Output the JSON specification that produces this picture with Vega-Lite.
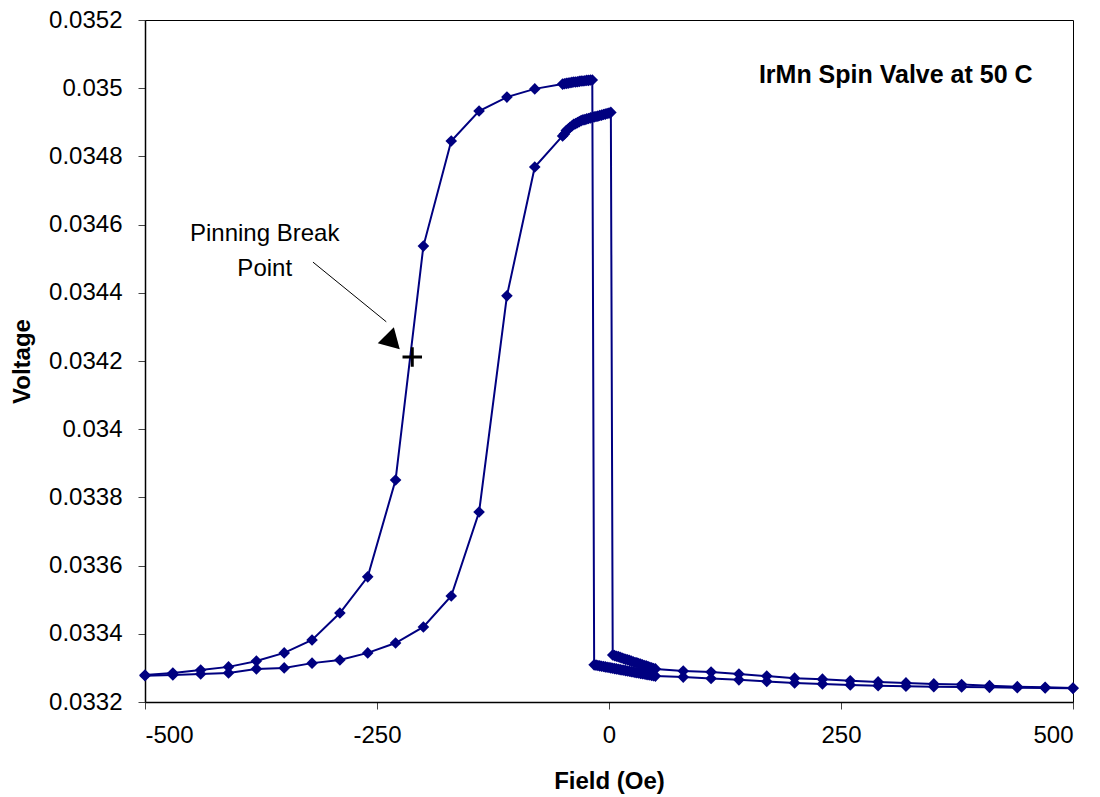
{
  "$schema": "https://vega.github.io/schema/vega-lite/v6.json",
  "width": 928,
  "height": 682,
  "autosize": {"type": "none"},
  "padding": {"left": 145, "top": 20, "right": 27, "bottom": 95},
  "background": "white",
  "config": {
    "font": "Liberation Sans",
    "view": {"stroke": "black", "strokeWidth": 1},
    "axis": {
      "domainColor": "black",
      "domainWidth": 1.5,
      "tickColor": "#444444",
      "tickSize": 7,
      "labelColor": "black",
      "titleColor": "black",
      "grid": false,
      "labelFont": "Liberation Sans",
      "titleFont": "Liberation Sans",
      "labelFontSize": 24,
      "titleFontSize": 24,
      "titleFontWeight": "bold"
    }
  },
  "datasets": {
    "loop": [
      {"f": 500, "v": 0.033240, "s": "down"},
      {"f": 470, "v": 0.033241, "s": "down"},
      {"f": 440, "v": 0.033242, "s": "down"},
      {"f": 410, "v": 0.033243, "s": "down"},
      {"f": 380, "v": 0.033244, "s": "down"},
      {"f": 350, "v": 0.033245, "s": "down"},
      {"f": 320, "v": 0.033246, "s": "down"},
      {"f": 290, "v": 0.033248, "s": "down"},
      {"f": 260, "v": 0.033250, "s": "down"},
      {"f": 230, "v": 0.033253, "s": "down"},
      {"f": 200, "v": 0.033256, "s": "down"},
      {"f": 170, "v": 0.033260, "s": "down"},
      {"f": 140, "v": 0.033265, "s": "down"},
      {"f": 110, "v": 0.033269, "s": "down"},
      {"f": 80, "v": 0.033273, "s": "down"},
      {"f": 50, "v": 0.033276, "s": "down"},
      {"f": 48, "v": 0.033277, "s": "down"},
      {"f": 46, "v": 0.033278, "s": "down"},
      {"f": 44, "v": 0.033279, "s": "down"},
      {"f": 42, "v": 0.033280, "s": "down"},
      {"f": 40, "v": 0.033281, "s": "down"},
      {"f": 38, "v": 0.033282, "s": "down"},
      {"f": 36, "v": 0.033283, "s": "down"},
      {"f": 34, "v": 0.033284, "s": "down"},
      {"f": 32, "v": 0.033285, "s": "down"},
      {"f": 30, "v": 0.033286, "s": "down"},
      {"f": 28, "v": 0.033287, "s": "down"},
      {"f": 26, "v": 0.033288, "s": "down"},
      {"f": 24, "v": 0.033289, "s": "down"},
      {"f": 22, "v": 0.033290, "s": "down"},
      {"f": 20, "v": 0.033291, "s": "down"},
      {"f": 18, "v": 0.033292, "s": "down"},
      {"f": 16, "v": 0.033293, "s": "down"},
      {"f": 14, "v": 0.033294, "s": "down"},
      {"f": 12, "v": 0.033295, "s": "down"},
      {"f": 10, "v": 0.033296, "s": "down"},
      {"f": 8, "v": 0.033297, "s": "down"},
      {"f": 6, "v": 0.033298, "s": "down"},
      {"f": 4, "v": 0.033299, "s": "down"},
      {"f": 2, "v": 0.033300, "s": "down"},
      {"f": 0, "v": 0.033301, "s": "down"},
      {"f": -2, "v": 0.033302, "s": "down"},
      {"f": -4, "v": 0.033303, "s": "down"},
      {"f": -6, "v": 0.033304, "s": "down"},
      {"f": -8, "v": 0.033305, "s": "down"},
      {"f": -10, "v": 0.033306, "s": "down"},
      {"f": -12, "v": 0.033307, "s": "down"},
      {"f": -14, "v": 0.033308, "s": "down"},
      {"f": -16, "v": 0.033309, "s": "down"},
      {"f": -18, "v": 0.035024, "s": "down"},
      {"f": -20, "v": 0.035024, "s": "down"},
      {"f": -22, "v": 0.035023, "s": "down"},
      {"f": -24, "v": 0.035023, "s": "down"},
      {"f": -26, "v": 0.035022, "s": "down"},
      {"f": -28, "v": 0.035021, "s": "down"},
      {"f": -30, "v": 0.035021, "s": "down"},
      {"f": -32, "v": 0.035020, "s": "down"},
      {"f": -34, "v": 0.035019, "s": "down"},
      {"f": -36, "v": 0.035018, "s": "down"},
      {"f": -38, "v": 0.035018, "s": "down"},
      {"f": -40, "v": 0.035017, "s": "down"},
      {"f": -42, "v": 0.035016, "s": "down"},
      {"f": -44, "v": 0.035015, "s": "down"},
      {"f": -46, "v": 0.035014, "s": "down"},
      {"f": -48, "v": 0.035013, "s": "down"},
      {"f": -50, "v": 0.035012, "s": "down"},
      {"f": -80, "v": 0.034998, "s": "down"},
      {"f": -110, "v": 0.034974, "s": "down"},
      {"f": -140, "v": 0.034933, "s": "down"},
      {"f": -170, "v": 0.034845, "s": "down"},
      {"f": -200, "v": 0.034537, "s": "down"},
      {"f": -230, "v": 0.033851, "s": "down"},
      {"f": -260, "v": 0.033567, "s": "down"},
      {"f": -290, "v": 0.033461, "s": "down"},
      {"f": -320, "v": 0.033382, "s": "down"},
      {"f": -350, "v": 0.033344, "s": "down"},
      {"f": -380, "v": 0.033320, "s": "down"},
      {"f": -410, "v": 0.033303, "s": "down"},
      {"f": -440, "v": 0.033294, "s": "down"},
      {"f": -470, "v": 0.033285, "s": "down"},
      {"f": -500, "v": 0.033279, "s": "down"},
      {"f": -500, "v": 0.033277, "s": "up"},
      {"f": -470, "v": 0.033279, "s": "up"},
      {"f": -440, "v": 0.033282, "s": "up"},
      {"f": -410, "v": 0.033285, "s": "up"},
      {"f": -380, "v": 0.033297, "s": "up"},
      {"f": -350, "v": 0.033300, "s": "up"},
      {"f": -320, "v": 0.033314, "s": "up"},
      {"f": -290, "v": 0.033323, "s": "up"},
      {"f": -260, "v": 0.033344, "s": "up"},
      {"f": -230, "v": 0.033373, "s": "up"},
      {"f": -200, "v": 0.033420, "s": "up"},
      {"f": -170, "v": 0.033511, "s": "up"},
      {"f": -140, "v": 0.033757, "s": "up"},
      {"f": -110, "v": 0.034391, "s": "up"},
      {"f": -80, "v": 0.034769, "s": "up"},
      {"f": -50, "v": 0.034860, "s": "up"},
      {"f": -48, "v": 0.034866, "s": "up"},
      {"f": -46, "v": 0.034876, "s": "up"},
      {"f": -44, "v": 0.034880, "s": "up"},
      {"f": -42, "v": 0.034885, "s": "up"},
      {"f": -40, "v": 0.034889, "s": "up"},
      {"f": -38, "v": 0.034894, "s": "up"},
      {"f": -36, "v": 0.034896, "s": "up"},
      {"f": -34, "v": 0.034899, "s": "up"},
      {"f": -32, "v": 0.034902, "s": "up"},
      {"f": -30, "v": 0.034905, "s": "up"},
      {"f": -28, "v": 0.034907, "s": "up"},
      {"f": -26, "v": 0.034908, "s": "up"},
      {"f": -24, "v": 0.034910, "s": "up"},
      {"f": -22, "v": 0.034911, "s": "up"},
      {"f": -20, "v": 0.034913, "s": "up"},
      {"f": -18, "v": 0.034914, "s": "up"},
      {"f": -16, "v": 0.034916, "s": "up"},
      {"f": -14, "v": 0.034917, "s": "up"},
      {"f": -12, "v": 0.034918, "s": "up"},
      {"f": -10, "v": 0.034920, "s": "up"},
      {"f": -8, "v": 0.034921, "s": "up"},
      {"f": -6, "v": 0.034923, "s": "up"},
      {"f": -4, "v": 0.034924, "s": "up"},
      {"f": -2, "v": 0.034926, "s": "up"},
      {"f": 0, "v": 0.034927, "s": "up"},
      {"f": 2, "v": 0.034929, "s": "up"},
      {"f": 4, "v": 0.033338, "s": "up"},
      {"f": 6, "v": 0.033336, "s": "up"},
      {"f": 8, "v": 0.033334, "s": "up"},
      {"f": 10, "v": 0.033333, "s": "up"},
      {"f": 12, "v": 0.033331, "s": "up"},
      {"f": 14, "v": 0.033329, "s": "up"},
      {"f": 16, "v": 0.033327, "s": "up"},
      {"f": 18, "v": 0.033325, "s": "up"},
      {"f": 20, "v": 0.033324, "s": "up"},
      {"f": 22, "v": 0.033322, "s": "up"},
      {"f": 24, "v": 0.033320, "s": "up"},
      {"f": 26, "v": 0.033318, "s": "up"},
      {"f": 28, "v": 0.033316, "s": "up"},
      {"f": 30, "v": 0.033315, "s": "up"},
      {"f": 32, "v": 0.033313, "s": "up"},
      {"f": 34, "v": 0.033311, "s": "up"},
      {"f": 36, "v": 0.033309, "s": "up"},
      {"f": 38, "v": 0.033307, "s": "up"},
      {"f": 40, "v": 0.033306, "s": "up"},
      {"f": 42, "v": 0.033304, "s": "up"},
      {"f": 44, "v": 0.033302, "s": "up"},
      {"f": 46, "v": 0.033300, "s": "up"},
      {"f": 48, "v": 0.033298, "s": "up"},
      {"f": 50, "v": 0.033297, "s": "up"},
      {"f": 80, "v": 0.033291, "s": "up"},
      {"f": 110, "v": 0.033288, "s": "up"},
      {"f": 140, "v": 0.033282, "s": "up"},
      {"f": 170, "v": 0.033276, "s": "up"},
      {"f": 200, "v": 0.033270, "s": "up"},
      {"f": 230, "v": 0.033267, "s": "up"},
      {"f": 260, "v": 0.033262, "s": "up"},
      {"f": 290, "v": 0.033259, "s": "up"},
      {"f": 320, "v": 0.033256, "s": "up"},
      {"f": 350, "v": 0.033253, "s": "up"},
      {"f": 380, "v": 0.033251, "s": "up"},
      {"f": 410, "v": 0.033248, "s": "up"},
      {"f": 440, "v": 0.033245, "s": "up"},
      {"f": 470, "v": 0.033243, "s": "up"},
      {"f": 500, "v": 0.033241, "s": "up"}
    ],
    "one": [{}]
  },
  "layer": [
    {
      "data": {"name": "loop"},
      "mark": {
        "type": "line",
        "color": "#000080",
        "strokeWidth": 2,
        "point": {"shape": "diamond", "filled": true, "size": 135, "color": "#000080"}
      },
      "encoding": {
        "x": {
          "field": "f",
          "type": "quantitative",
          "scale": {"domain": [-500, 500], "nice": false, "zero": false},
          "axis": {
            "title": "Field (Oe)",
            "values": [-500, -250, 0, 250, 500],
            "labelExpr": "'' + datum.value",
            "labelPadding": 14,
            "titlePadding": 22
          }
        },
        "y": {
          "field": "v",
          "type": "quantitative",
          "scale": {"domain": [0.0332, 0.0352], "nice": false, "zero": false},
          "axis": {
            "title": "Voltage",
            "values": [0.0332, 0.0334, 0.0336, 0.0338, 0.034, 0.0342, 0.0344, 0.0346, 0.0348, 0.035, 0.0352],
            "format": ".4~f",
            "labelPadding": 16,
            "titlePadding": 14
          }
        },
        "detail": {"field": "s", "type": "nominal"},
        "order": {"value": null}
      }
    },
    {
      "data": {"name": "one"},
      "mark": {"type": "rule", "color": "black", "strokeWidth": 1},
      "encoding": {
        "x": {"datum": -319},
        "y": {"datum": 0.03449},
        "x2": {"datum": -240},
        "y2": {"datum": 0.034315}
      }
    },
    {
      "data": {"name": "one"},
      "mark": {"type": "point", "shape": "triangle-right", "angle": 45, "filled": true, "color": "black", "size": 520, "opacity": 1},
      "encoding": {
        "x": {"datum": -233},
        "y": {"datum": 0.034255}
      }
    },
    {
      "data": {"name": "one"},
      "mark": {"type": "point", "shape": "M-1,0H1M0,-1V1", "filled": false, "stroke": "black", "strokeWidth": 3, "size": 380, "opacity": 1},
      "encoding": {
        "x": {"datum": -212},
        "y": {"datum": 0.034212}
      }
    },
    {
      "data": {"name": "one"},
      "mark": {"type": "text", "text": ["Pinning Break", "Point"], "font": "Liberation Sans", "fontSize": 24, "lineHeight": 35, "align": "center", "baseline": "middle", "color": "black"},
      "encoding": {
        "x": {"datum": -371},
        "y": {"datum": 0.034572}
      }
    },
    {
      "data": {"name": "one"},
      "mark": {"type": "text", "text": "IrMn Spin Valve at 50 C", "font": "Liberation Sans", "fontSize": 25, "fontWeight": "bold", "align": "center", "baseline": "middle", "color": "black"},
      "encoding": {
        "x": {"datum": 309},
        "y": {"datum": 0.035039}
      }
    }
  ]
}
